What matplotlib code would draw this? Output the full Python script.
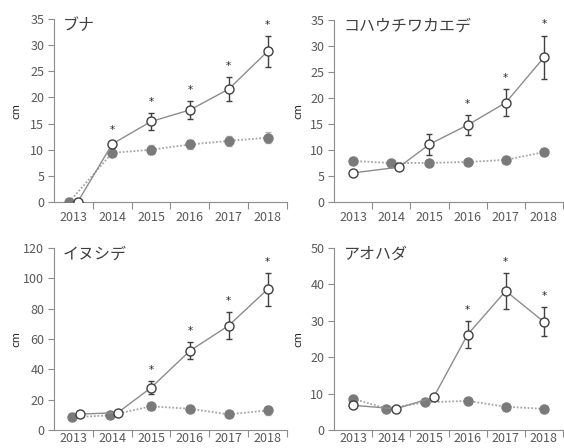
import matplotlib
matplotlib.use("Agg")
import matplotlib.pyplot as plt
import numpy as np

plt.rcParams['font.family'] = ['Noto Sans CJK JP', 'DejaVu Sans']

years = ["2013", "2014", "2015", "2016", "2017", "2018"]

titles = ["ブナ", "コハウチワカエデ", "イヌシデ", "アオハダ"]
ymax = [35, 35, 120, 50]
ystep = [5, 5, 20, 10]

open_mean = [
    [0.0, 11.1, 15.4, 17.6, 21.6, 28.8],
    [5.6, 6.7, 11.1, 14.8, 19.1, 27.8],
    [10.5, 11.4, 27.9, 52.2, 68.9, 92.8],
    [6.8, 5.8, 9.0, 26.2, 38.2, 29.7],
]
open_err = [
    [0.0, 0.5, 1.6, 1.7, 2.3, 3.0],
    [0.5, 0.3, 2.0, 1.9, 2.6, 4.2],
    [0.6, 0.8, 4.3, 5.6, 8.9, 10.8],
    [0.5, 0.6, 0.7, 3.7, 5.0, 4.0],
]
fill_mean = [
    [0.0, 9.4, 10.0, 11.0, 11.7, 12.3],
    [7.9, 7.5, 7.5, 7.7, 8.1, 9.6],
    [8.3, 9.7, 15.6, 14.0, 10.3, 12.9],
    [8.6, 5.9, 7.6, 8.0, 6.4, 5.8],
]
fill_err = [
    [0.0, 0.6, 0.9, 0.9, 0.9, 1.0],
    [0.3, 0.3, 0.3, 0.3, 0.4, 0.6],
    [1.0, 1.0, 2.2, 1.6, 1.4, 3.0],
    [0.5, 0.4, 0.5, 0.5, 0.5, 0.4],
]
signif = [
    [0, 1, 1, 1, 1, 1],
    [0, 0, 0, 1, 1, 1],
    [0, 0, 1, 1, 1, 1],
    [0, 0, 0, 1, 1, 1],
]

# horizontal offsets (style: dodge overlapping markers)
open_dx = [
    [0.11, 0, 0, 0, 0, 0],
    [0, 0.2, 0, 0, 0, 0],
    [0.17, 0.14, 0, 0, 0, 0],
    [0, 0.12, 0.11, 0, 0, 0],
]
fill_dx = [
    [-0.11, 0, 0, 0, 0, 0],
    [0, 0, 0, 0, 0, 0],
    [-0.03, -0.06, 0, 0, 0, 0],
    [0, -0.13, -0.11, 0, 0, 0],
]

W, H = 564, 448
fig = plt.figure(figsize=(W / 100, H / 100), dpi=100)

boxes = [
    (54, 287, 19, 202),
    (334, 563, 20, 202),
    (54, 287, 248, 430),
    (334, 563, 248, 430),
]
xpads = [6.5, 6.5, 1.5, 1.5]
label_px = [33, 31, 33, 31]

tick_col = '#595959'
spine_col = '#8c8c8c'

for i in range(4):
    l, r, t, b = boxes[i]
    ax = fig.add_axes([l / W, 1 - b / H, (r - l) / W, (b - t) / H])
    x = np.arange(len(years))
    xo = x + np.array(open_dx[i])
    xf = x + np.array(fill_dx[i])
    # filled series
    ax.errorbar(xf, fill_mean[i], yerr=fill_err[i], fmt='none', ecolor='#b3b3b3',
                elinewidth=1.0, capsize=2, capthick=1.0, zorder=2)
    ax.plot(xf, fill_mean[i], linestyle=(0, (1, 1)), color='#a6a6a6', lw=1.3,
            marker='o', ms=6.5, mfc='#7a7a7a', mec='#7a7a7a', zorder=3)
    # open series
    ax.errorbar(xo, open_mean[i], yerr=open_err[i], fmt='none', ecolor='#404040',
                elinewidth=1.0, capsize=2, capthick=1.0, zorder=4)
    ax.plot(xo, open_mean[i], linestyle='-', color='#8c8c8c', lw=1.0,
            marker='o', ms=6.5, mfc='white', mec='#404040', mew=1.0, zorder=5)
    for j in range(len(years)):
        if signif[i][j]:
            top = open_mean[i][j] + open_err[i][j]
            ax.annotate('*', xy=(xo[j], top), xytext=(0, 8), textcoords='offset points',
                        ha='center', va='center', fontsize=7.5, color='#262626',
                        family=['DejaVu Sans'])
    ax.set_xlim(-0.5, 5.5)
    ax.set_ylim(0, ymax[i])
    ax.set_yticks(np.arange(0, ymax[i] + 0.1, ystep[i]))
    ax.set_xticks(np.arange(0.5, 5.6, 1.0))
    ax.set_xticklabels([])
    ax.set_xticks(x, minor=True)
    ax.set_xticklabels(years, minor=True)
    ax.tick_params(axis='x', which='major', length=5, color=spine_col, width=0.8)
    ax.tick_params(axis='x', which='minor', length=0, pad=xpads[i], labelsize=9, labelcolor=tick_col)
    ax.tick_params(axis='y', length=4, color=spine_col, width=0.8, labelsize=9,
                   labelcolor=tick_col, pad=3)
    for s in ['top', 'right']:
        ax.spines[s].set_visible(False)
    for s in ['left', 'bottom']:
        ax.spines[s].set_color(spine_col)
        ax.spines[s].set_linewidth(0.8)
    ax.set_ylabel('cm', fontsize=8, color='#262626')
    ax.yaxis.set_label_coords(-label_px[i] / (r - l), 0.5)
    ax.text(9 / (r - l), 0.967, titles[i], transform=ax.transAxes, ha='left', va='center',
            fontsize=11.5, color='#404040')

fig.savefig('out.png', dpi=100)
